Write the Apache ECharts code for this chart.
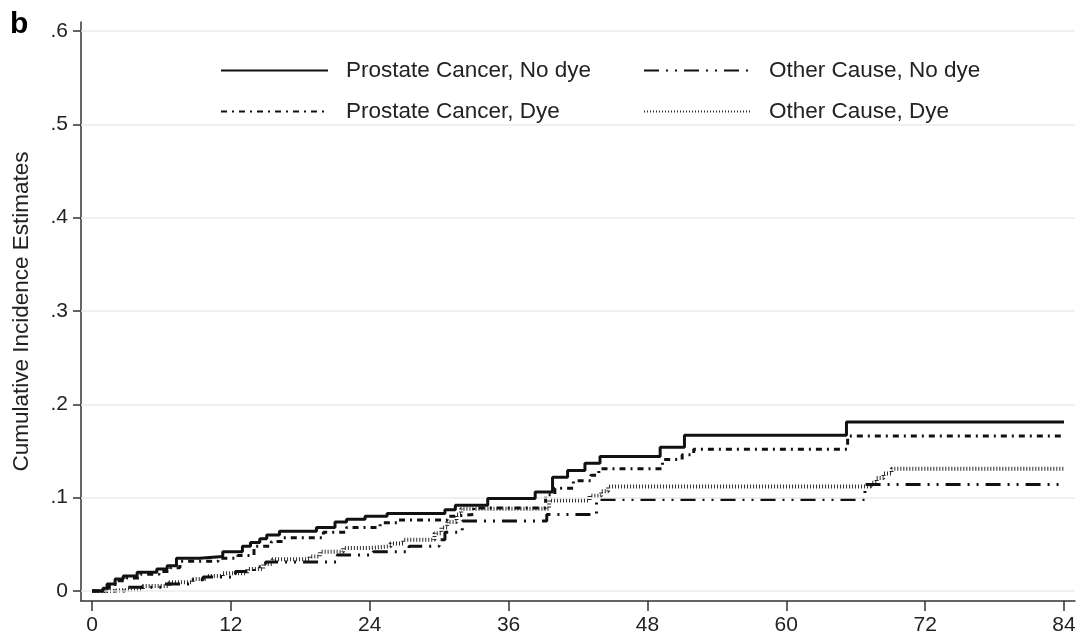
<!DOCTYPE html>
<html>
<head>
<meta charset="utf-8">
<script src="https://cdn.jsdelivr.net/npm/echarts@6/dist/echarts.min.js"></script>
<style>
  html, body { margin: 0; padding: 0; background: #fff; }
  #main { width: 1089px; height: 636px; }
</style>
</head>
<body>
<div id="main"></div>
<script>
var chartDom = document.getElementById('main');
var myChart = echarts.init(chartDom);

// tick positions
xTicks = [0, 12, 24, 36, 48, 60, 72, 84]
yTicks = [0, 0.1, 0.2, 0.3, 0.4, 0.5, 0.6]

// Prostate Cancer, No dye
pcNoDyeMonths = [0, 0.95, 1.3, 2.0, 2.7, 3.9, 5.6, 6.5, 7.3, 9.3, 11.3, 13.0, 13.7, 14.5, 15.1, 16.2, 19.4, 21.0, 22.0, 23.6, 25.5, 30.5, 31.4, 34.2, 38.3, 39.8, 41.1, 42.6, 43.9, 49.1, 51.2, 65.2, 84]
pcNoDyeValues = [0, 0.003, 0.0075, 0.013, 0.016, 0.020, 0.0235, 0.027, 0.035, 0.037, 0.042, 0.048, 0.052, 0.056, 0.060, 0.064, 0.068, 0.074, 0.077, 0.080, 0.083, 0.087, 0.092, 0.099, 0.106, 0.122, 0.129, 0.137, 0.144, 0.154, 0.167, 0.181, 0.181]

// Prostate Cancer, Dye
pcDyeMonths = [0, 1.0, 1.5, 2.2, 3.0, 4.2, 5.8, 6.8, 7.6, 10.9, 12.6, 14.0, 15.5, 16.5, 20.0, 22.0, 24.9, 26.4, 30.7, 31.2, 33.0, 39.2, 40.0, 41.6, 43.1, 43.8, 49.3, 51.0, 52.0, 65.3, 84]
pcDyeValues = [0, 0.003, 0.007, 0.011, 0.014, 0.018, 0.021, 0.025, 0.032, 0.035, 0.038, 0.048, 0.053, 0.057, 0.063, 0.068, 0.073, 0.076, 0.080, 0.082, 0.089, 0.103, 0.110, 0.118, 0.124, 0.131, 0.141, 0.146, 0.152, 0.166, 0.166]

// Other Cause, No dye
ocNoDyeMonths = [0, 3.0, 6.3, 8.6, 9.6, 12.4, 14.0, 15.0, 21.2, 24.3, 27.4, 30.0, 30.5, 32.0, 39.3, 43.6, 66.8, 84]
ocNoDyeValues = [0, 0.004, 0.0075, 0.012, 0.015, 0.021, 0.026, 0.031, 0.0385, 0.042, 0.048, 0.055, 0.063, 0.075, 0.082, 0.098, 0.114, 0.114]

// Other Cause, Dye
ocDyeMonths = [0, 1.3, 4.4, 6.7, 8.7, 9.9, 11.3, 13.4, 14.8, 15.6, 18.8, 19.7, 21.7, 23.8, 25.8, 26.9, 29.6, 30.2, 30.7, 31.5, 31.9, 39.5, 43.0, 44.0, 44.6, 67.3, 67.8, 68.4, 69.1, 84]
ocDyeValues = [0, 0.002, 0.0055, 0.0095, 0.013, 0.016, 0.019, 0.0235, 0.029, 0.034, 0.037, 0.042, 0.046, 0.048, 0.051, 0.055, 0.062, 0.068, 0.074, 0.082, 0.088, 0.097, 0.102, 0.107, 0.112, 0.116, 0.121, 0.126, 0.131, 0.131]

function pairs(xs, ys) {
    return xs.map((x, i) => [x, ys[i]])
}

var font = '"Liberation Sans", Arial, Helvetica, sans-serif'

function makeSeries(name, xs, ys, style, z) {
    return {
        name: name, type: 'line', step: 'end', symbol: 'none', z: z,
        data: pairs(xs, ys),
        itemStyle: { color: '#111', opacity: 0 },
        lineStyle: Object.assign({ color: '#111', cap: 'butt', opacity: 1 }, style),
        emphasis: { disabled: true }
    }
}

function makeLegend(left, names) {
    return {
        orient: 'vertical', left: left, top: 59, padding: 0,
        itemWidth: 107, itemHeight: 22, itemGap: 18,
        data: names,
        itemStyle: { opacity: 0 },
        textStyle: { fontFamily: font, fontSize: 22.5, color: '#222', padding: [0, 0, 0, 13] },
        selectedMode: false
    }
}

var option = {
    animation: false,
    title: {
        text: 'b', left: 10, top: 10, padding: 0,
        textStyle: { fontFamily: font, fontSize: 30, fontWeight: 'bold', color: '#000' }
    },
    grid: { left: 81, right: 14, top: 22, bottom: 34 },
    legend: [
        makeLegend(220, ['Prostate Cancer, No dye', 'Prostate Cancer, Dye']),
        makeLegend(643, ['Other Cause, No dye', 'Other Cause, Dye'])
    ],
    xAxis: {
        type: 'value', min: -0.95, max: 84.95,
        axisLine: { show: true, onZero: false, lineStyle: { color: '#333', width: 1.5 } },
        axisTick: { show: true, length: 10, customValues: xTicks, lineStyle: { color: '#333', width: 1.5 } },
        axisLabel: { customValues: xTicks, margin: 14, fontFamily: font, fontSize: 21, color: '#222' },
        splitLine: { show: false }
    },
    yAxis: {
        type: 'value', min: -0.0107, max: 0.6096,
        name: 'Cumulative Incidence Estimates', nameLocation: 'middle', nameGap: 48,
        nameTextStyle: { fontFamily: font, fontSize: 22.5, color: '#222' },
        axisLine: { show: true, onZero: false, lineStyle: { color: '#333', width: 1.5 } },
        axisTick: { show: true, length: 8, customValues: yTicks, lineStyle: { color: '#333', width: 1.5 } },
        axisLabel: {
            customValues: yTicks, margin: 13, fontFamily: font, fontSize: 21, color: '#222',
            formatter: v => v === 0 ? '0' : v.toFixed(1).replace('0.', '.')
        },
        splitLine: { show: false }
    },
    series: [
        makeSeries('Prostate Cancer, No dye', pcNoDyeMonths, pcNoDyeValues, { width: 3, type: 'solid' }, 5),
        makeSeries('Other Cause, No dye', ocNoDyeMonths, ocNoDyeValues, { width: 3, type: [15, 7, 2, 7, 2, 7] }, 3),
        makeSeries('Prostate Cancer, Dye', pcDyeMonths, pcDyeValues, { width: 3, type: [6, 5, 2, 5] }, 4),
        makeSeries('Other Cause, Dye', ocDyeMonths, ocDyeValues, { width: 4, type: [1, 2], color: '#2a2a2a' }, 2),
        {
            // horizontal grid lines at the y ticks
            type: 'line', data: [], silent: true,
            markLine: {
                symbol: 'none', silent: true, label: { show: false },
                lineStyle: { color: '#e8ecec', width: 1.5, type: 'solid' },
                data: yTicks.map(v => ({ yAxis: v }))
            },
            z: 1
        }
    ]
};
option && myChart.setOption(option);
</script>
</body>
</html>
